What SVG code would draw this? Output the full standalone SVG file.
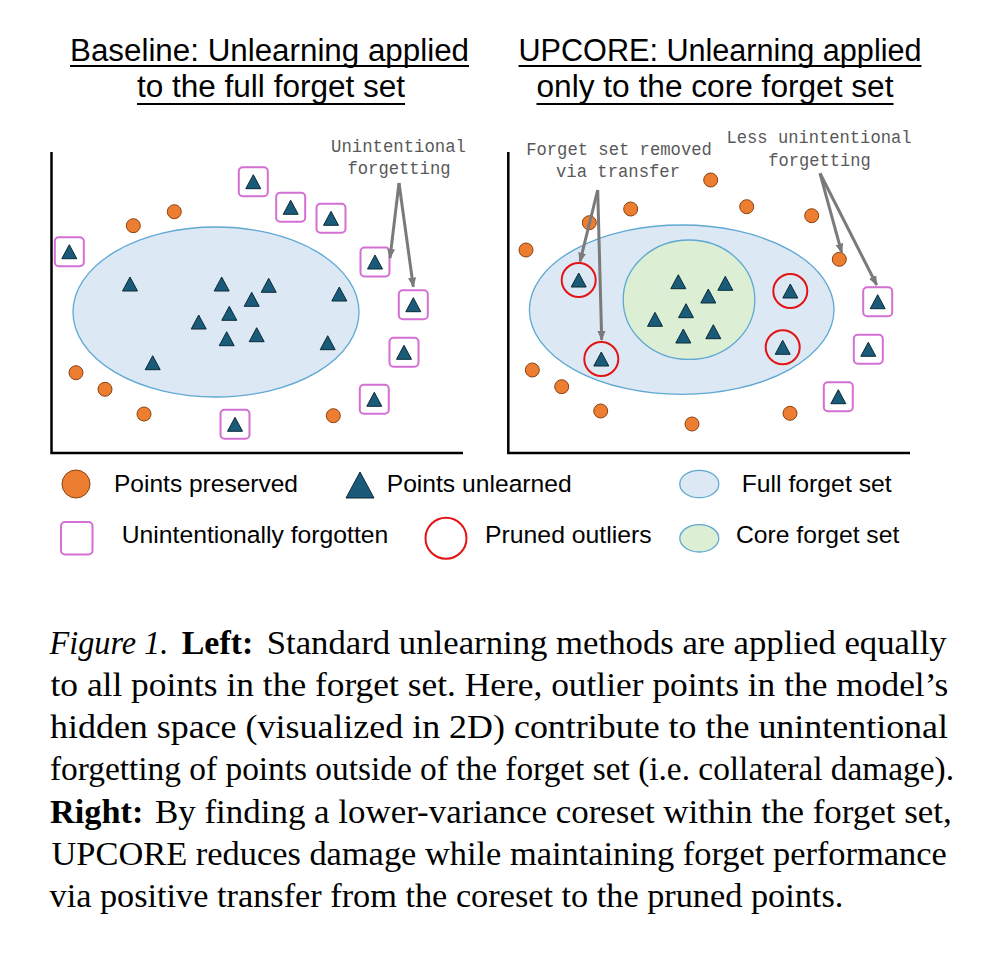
<svg xmlns="http://www.w3.org/2000/svg" xmlns:xlink="http://www.w3.org/1999/xlink" width="1000" height="953" viewBox="0 0 1000 953">
<style>
.title{font-family:"Liberation Sans",Arial,sans-serif;font-size:31px;fill:#000;text-anchor:middle}
.ul{stroke:#000;stroke-width:1.8}
.axis{stroke:#000;stroke-width:2.5;fill:none}
.full{fill:#dce9f5;stroke:#5fa8d2;stroke-width:1.3}
.core{fill:#dcefd4;stroke:#5fa8d2;stroke-width:1.3}
.pres{fill:#ed7d31;stroke:#8a4210;stroke-width:1}
.tri{fill:#1b5b7a;stroke:#0c2a38;stroke-width:1}
.box{fill:#fff;stroke:#d46fd4;stroke-width:2}
.prune{fill:none;stroke:#e31414;stroke-width:2}
.note{font-family:"Liberation Mono","DejaVu Sans Mono",monospace;font-size:18.5px;fill:#595959;text-anchor:middle}
.conn{stroke:#7a7a7a;stroke-width:3;fill:none}
.leg{font-family:"Liberation Sans",Arial,sans-serif;font-size:24.5px;fill:#000}
.cap{font-family:"Liberation Serif","Times New Roman",serif;font-size:34px;fill:#000}
</style>
<defs>
<path id="t" d="M0,-7 L7.5,7 L-7.5,7 Z"/>
<rect id="b" x="-14.5" y="-14.5" width="29" height="29" rx="4"/>
<marker id="ah" markerUnits="userSpaceOnUse" viewBox="0 0 10 10" refX="9" refY="5" markerWidth="10" markerHeight="10" orient="auto">
<path d="M0,1 L10,5 L0,9 Z" fill="#7a7a7a"/>
</marker>
</defs>
<rect width="1000" height="953" fill="#fff"/>

<g id="titles">
<text class="title" x="269.5" y="61" textLength="399" lengthAdjust="spacingAndGlyphs">Baseline: Unlearning applied</text>
<line class="ul" x1="70" y1="66" x2="469" y2="66"/>
<text class="title" x="271" y="97" textLength="268" lengthAdjust="spacingAndGlyphs">to the full forget set</text>
<line class="ul" x1="137" y1="104" x2="405" y2="104"/>
<text class="title" x="720" y="61" textLength="403" lengthAdjust="spacingAndGlyphs">UPCORE: Unlearning applied</text>
<line class="ul" x1="518.5" y1="66" x2="921.5" y2="66"/>
<text class="title" x="715" y="97" textLength="357" lengthAdjust="spacingAndGlyphs">only to the core forget set</text>
<line class="ul" x1="536.5" y1="104" x2="893.5" y2="104"/>
</g>

<g id="left-panel">
<path class="axis" d="M51.5,152 V453 H463"/>
<ellipse id="left-full-forget-set" class="full" cx="216" cy="312" rx="143" ry="85"/>
<g id="left-preserved">
<circle class="pres" cx="133.3" cy="225.7" r="7"/>
<circle class="pres" cx="174.3" cy="211.7" r="7"/>
<circle class="pres" cx="76" cy="372.7" r="7"/>
<circle class="pres" cx="105" cy="389.3" r="7"/>
<circle class="pres" cx="144" cy="414" r="7"/>
<circle class="pres" cx="333.3" cy="415.7" r="7"/>
</g>
<g id="left-unlearned">
<use href="#t" class="tri" x="130" y="284"/>
<use href="#t" class="tri" x="221.7" y="284"/>
<use href="#t" class="tri" x="268.7" y="285.3"/>
<use href="#t" class="tri" x="251.7" y="299.3"/>
<use href="#t" class="tri" x="229.3" y="313.3"/>
<use href="#t" class="tri" x="198.7" y="322"/>
<use href="#t" class="tri" x="226.7" y="338.7"/>
<use href="#t" class="tri" x="256.7" y="334.7"/>
<use href="#t" class="tri" x="339.3" y="294"/>
<use href="#t" class="tri" x="327.7" y="342.7"/>
<use href="#t" class="tri" x="152.7" y="362.7"/>
</g>
<g id="left-forgotten">
<g transform="translate(69.3,251.7)"><use href="#b" class="box"/><use href="#t" class="tri"/></g>
<g transform="translate(253.3,181.7)"><use href="#b" class="box"/><use href="#t" class="tri"/></g>
<g transform="translate(290.7,207.3)"><use href="#b" class="box"/><use href="#t" class="tri"/></g>
<g transform="translate(331,218.3)"><use href="#b" class="box"/><use href="#t" class="tri"/></g>
<g transform="translate(375,262)"><use href="#b" class="box"/><use href="#t" class="tri"/></g>
<g transform="translate(413.3,304.7)"><use href="#b" class="box"/><use href="#t" class="tri"/></g>
<g transform="translate(404,352.3)"><use href="#b" class="box"/><use href="#t" class="tri"/></g>
<g transform="translate(374.3,399.3)"><use href="#b" class="box"/><use href="#t" class="tri"/></g>
<g transform="translate(235,424.3)"><use href="#b" class="box"/><use href="#t" class="tri"/></g>
</g>
<g id="left-note">
<text class="note" x="398.5" y="151.5" textLength="135" lengthAdjust="spacingAndGlyphs">Unintentional</text>
<text class="note" x="399" y="173.5" textLength="103" lengthAdjust="spacingAndGlyphs">forgetting</text>
</g>
</g>

<g id="right-panel">
<path class="axis" d="M508.3,152 V453 H910"/>
<ellipse id="right-full-forget-set" class="full" cx="681.7" cy="309.7" rx="152.3" ry="84.7"/>
<ellipse id="right-core-forget-set" class="core" cx="689" cy="299.7" rx="65.8" ry="59.7"/>
<g id="right-preserved">
<circle class="pres" cx="710.7" cy="180" r="7"/>
<circle class="pres" cx="630.7" cy="209" r="7"/>
<circle class="pres" cx="746.7" cy="206.7" r="7"/>
<circle class="pres" cx="811.7" cy="215.7" r="7"/>
<circle class="pres" cx="589.3" cy="222.7" r="7"/>
<circle class="pres" cx="526" cy="250" r="7"/>
<circle class="pres" cx="839.3" cy="259.3" r="7"/>
<circle class="pres" cx="532.3" cy="370" r="7"/>
<circle class="pres" cx="561.7" cy="386.7" r="7"/>
<circle class="pres" cx="600.7" cy="411" r="7"/>
<circle class="pres" cx="692" cy="424" r="7"/>
<circle class="pres" cx="790" cy="413.3" r="7"/>
</g>
<g id="right-core-unlearned">
<use href="#t" class="tri" x="678.3" y="281.7"/>
<use href="#t" class="tri" x="725.3" y="283.3"/>
<use href="#t" class="tri" x="708.3" y="296"/>
<use href="#t" class="tri" x="686" y="310.7"/>
<use href="#t" class="tri" x="655" y="319.3"/>
<use href="#t" class="tri" x="683.3" y="336"/>
<use href="#t" class="tri" x="713.3" y="331.7"/>
</g>
<g id="right-pruned">
<g transform="translate(578.7,280)"><circle class="prune" r="17"/><use href="#t" class="tri"/></g>
<g transform="translate(601.3,359)"><circle class="prune" r="17"/><use href="#t" class="tri"/></g>
<g transform="translate(790.3,291)"><circle class="prune" r="17"/><use href="#t" class="tri"/></g>
<g transform="translate(782.7,347.3)"><circle class="prune" r="17"/><use href="#t" class="tri"/></g>
</g>
<g id="right-forgotten">
<g transform="translate(877.7,301.7)"><use href="#b" class="box"/><use href="#t" class="tri"/></g>
<g transform="translate(868.3,349.3)"><use href="#b" class="box"/><use href="#t" class="tri"/></g>
<g transform="translate(838.3,396.7)"><use href="#b" class="box"/><use href="#t" class="tri"/></g>
</g>
<g id="right-note-transfer">
<text class="note" x="619" y="155" textLength="185.7" lengthAdjust="spacingAndGlyphs">Forget set removed</text>
<text class="note" x="618" y="177.3" textLength="124" lengthAdjust="spacingAndGlyphs">via transfer</text>
</g>
<g id="right-note-less">
<text class="note" x="819" y="142.7" textLength="185" lengthAdjust="spacingAndGlyphs">Less unintentional</text>
<text class="note" x="819.5" y="165.7" textLength="102.4" lengthAdjust="spacingAndGlyphs">forgetting</text>
</g>
</g>

<g id="connectors">
<line class="conn" x1="399" y1="183" x2="390" y2="258" marker-end="url(#ah)"/>
<line class="conn" x1="399" y1="183" x2="413.3" y2="286.7" marker-end="url(#ah)"/>
<line class="conn" x1="597.7" y1="190" x2="580" y2="261.7" marker-end="url(#ah)"/>
<line class="conn" x1="597.7" y1="190" x2="601.7" y2="340" marker-end="url(#ah)"/>
<line class="conn" x1="820" y1="173.3" x2="841.7" y2="252.7" marker-end="url(#ah)"/>
<line class="conn" x1="820" y1="173.3" x2="876.7" y2="285" marker-end="url(#ah)"/>
</g>

<g id="legend">
<g id="leg-preserved"><circle class="pres" cx="76" cy="484" r="14"/><text class="leg" x="114" y="491.7" textLength="184" lengthAdjust="spacingAndGlyphs">Points preserved</text></g>
<g id="leg-unlearned"><path class="tri" d="M360,472 L374,498 L346,498 Z"/><text class="leg" x="386.7" y="491.7" textLength="185" lengthAdjust="spacingAndGlyphs">Points unlearned</text></g>
<g id="leg-full"><ellipse class="full" cx="699.3" cy="484" rx="19.5" ry="13.7"/><text class="leg" x="741.7" y="491.7" textLength="150" lengthAdjust="spacingAndGlyphs">Full forget set</text></g>
<g id="leg-forgotten"><rect class="box" x="61" y="522" width="31.5" height="32.5" rx="4"/><text class="leg" x="121.7" y="543.3" textLength="266.6" lengthAdjust="spacingAndGlyphs">Unintentionally forgotten</text></g>
<g id="leg-pruned"><circle class="prune" cx="446" cy="538.3" r="20.5"/><text class="leg" x="485" y="543.3" textLength="166.7" lengthAdjust="spacingAndGlyphs">Pruned outliers</text></g>
<g id="leg-core"><ellipse class="core" cx="699.3" cy="538.3" rx="19.5" ry="13.7"/><text class="leg" x="736" y="543.3" textLength="163.3" lengthAdjust="spacingAndGlyphs">Core forget set</text></g>
</g>

<g id="caption">
<text class="cap" x="49.5" y="654" font-style="italic" textLength="118.8" lengthAdjust="spacingAndGlyphs">Figure 1.</text>
<text class="cap" x="181.7" y="654" font-weight="bold" textLength="71.6" lengthAdjust="spacingAndGlyphs">Left:</text>
<text class="cap" x="266.7" y="654" textLength="680" lengthAdjust="spacingAndGlyphs">Standard unlearning methods are applied equally</text>
<text class="cap" x="50.5" y="696" textLength="897.8" lengthAdjust="spacingAndGlyphs">to all points in the forget set. Here, outlier points in the model’s</text>
<text class="cap" x="50" y="738" textLength="898" lengthAdjust="spacingAndGlyphs">hidden space (visualized in 2D) contribute to the unintentional</text>
<text class="cap" x="50" y="780" textLength="904" lengthAdjust="spacingAndGlyphs">forgetting of points outside of the forget set (i.e. collateral damage).</text>
<text class="cap" x="50" y="822.5" font-weight="bold" textLength="93.3" lengthAdjust="spacingAndGlyphs">Right:</text>
<text class="cap" x="155" y="822.5" textLength="796.7" lengthAdjust="spacingAndGlyphs">By finding a lower-variance coreset within the forget set,</text>
<text class="cap" x="51.5" y="864.5" textLength="895.2" lengthAdjust="spacingAndGlyphs">UPCORE reduces damage while maintaining forget performance</text>
<text class="cap" x="49.5" y="906.5" textLength="793.8" lengthAdjust="spacingAndGlyphs">via positive transfer from the coreset to the pruned points.</text>
</g>
</svg>
